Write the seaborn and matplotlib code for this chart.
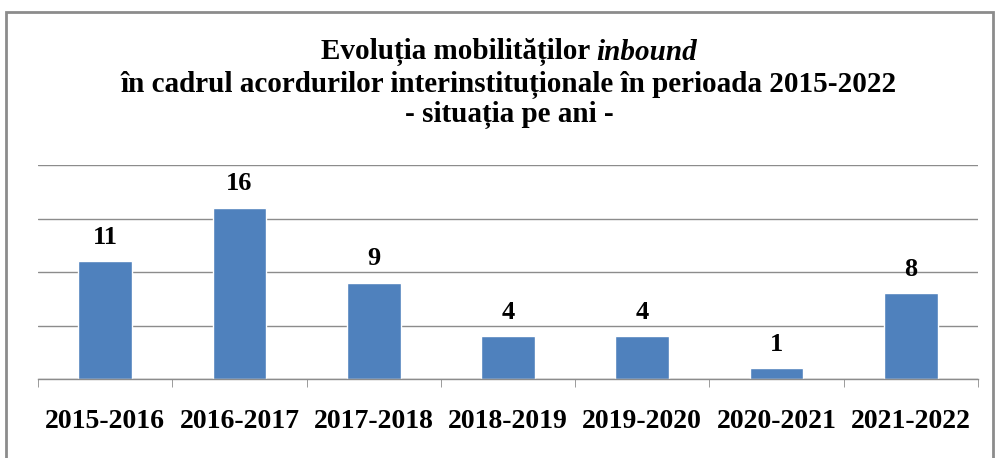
import matplotlib
matplotlib.use("Agg")
import matplotlib.pyplot as plt
import seaborn as sns
import pandas as pd
from matplotlib.patches import Rectangle

# date
ani = ['2015-2016', '2016-2017', '2017-2018', '2018-2019', '2019-2020', '2020-2021', '2021-2022']
mobilitati = [11, 16, 9, 4, 4, 1, 8]

df = pd.DataFrame({'An': ani, 'Mobilitati': mobilitati})

sns.set_style('white')
plt.rcParams['font.family'] = ['Liberation Serif', 'DejaVu Serif']
plt.rcParams['text.color'] = 'black'
plt.rcParams['xtick.color'] = 'black'

fig = plt.figure(figsize=(10, 4.58), dpi=100)
ax = fig.add_axes([0.038, 0.1725, 0.94, 0.4672])

sns.barplot(data=df, x='An', y='Mobilitati', color='#4F81BD', width=0.4,
            saturation=1, ax=ax)

ax.set_ylim(0, 20)
ax.set_xlim(-0.5, len(ani) - 0.5)
ax.set_yticks([0, 5, 10, 15, 20])
ax.yaxis.grid(True, color='#8c8c8c', linewidth=1)
ax.set_axisbelow(True)
ax.tick_params(axis='y', left=False, labelleft=False)
for s in ['left', 'right', 'top']:
    ax.spines[s].set_visible(False)
ax.spines['bottom'].set_color('#8c8c8c')
ax.spines['bottom'].set_linewidth(1)

# ticks between categories
ax.set_xticks([i + 0.5 for i in range(-1, len(ani))], minor=True)
ax.tick_params(axis='x', which='minor', bottom=True, length=6, color='#8c8c8c', direction='out')
ax.tick_params(axis='x', which='major', bottom=False, pad=18, labelsize=20, labelcolor='black')
for lab in ax.get_xticklabels():
    lab.set_fontweight('bold')
ax.set_xlabel('')
ax.set_ylabel('')

ax.bar_label(ax.containers[0], padding=9, fontsize=19, fontweight='bold', color='black')

# titlu
fs = 21
cx = 0.509
fig.canvas.draw()
r = fig.canvas.get_renderer()
t1a = fig.text(0, 1 - 52 / 458, 'Evoluția mobilităților ', fontsize=fs, fontweight='bold',
               ha='left', va='center')
t1b = fig.text(0, 1 - 52 / 458, 'inbound', fontsize=fs, fontweight='bold', style='italic',
               ha='left', va='center')
wa = t1a.get_window_extent(r).width / fig.bbox.width
wb = t1b.get_window_extent(r).width / fig.bbox.width
x0 = cx - (wa + wb) / 2
t1a.set_x(x0)
t1b.set_x(x0 + wa)
fig.text(cx, 1 - 85 / 458, 'în cadrul acordurilor interinstituționale în perioada 2015-2022',
         fontsize=fs, fontweight='bold', ha='center', va='center')
fig.text(cx, 1 - 115 / 458, '- situația pe ani -', fontsize=fs, fontweight='bold',
         ha='center', va='center')

# chenar
fig.patches.append(Rectangle((0.006, -0.05), 0.987, 0.05 + 1 - 12 / 458,
                             transform=fig.transFigure, fill=False,
                             edgecolor='#8c8c8c', linewidth=2))

fig.savefig('out.png', dpi=100, facecolor='white')
